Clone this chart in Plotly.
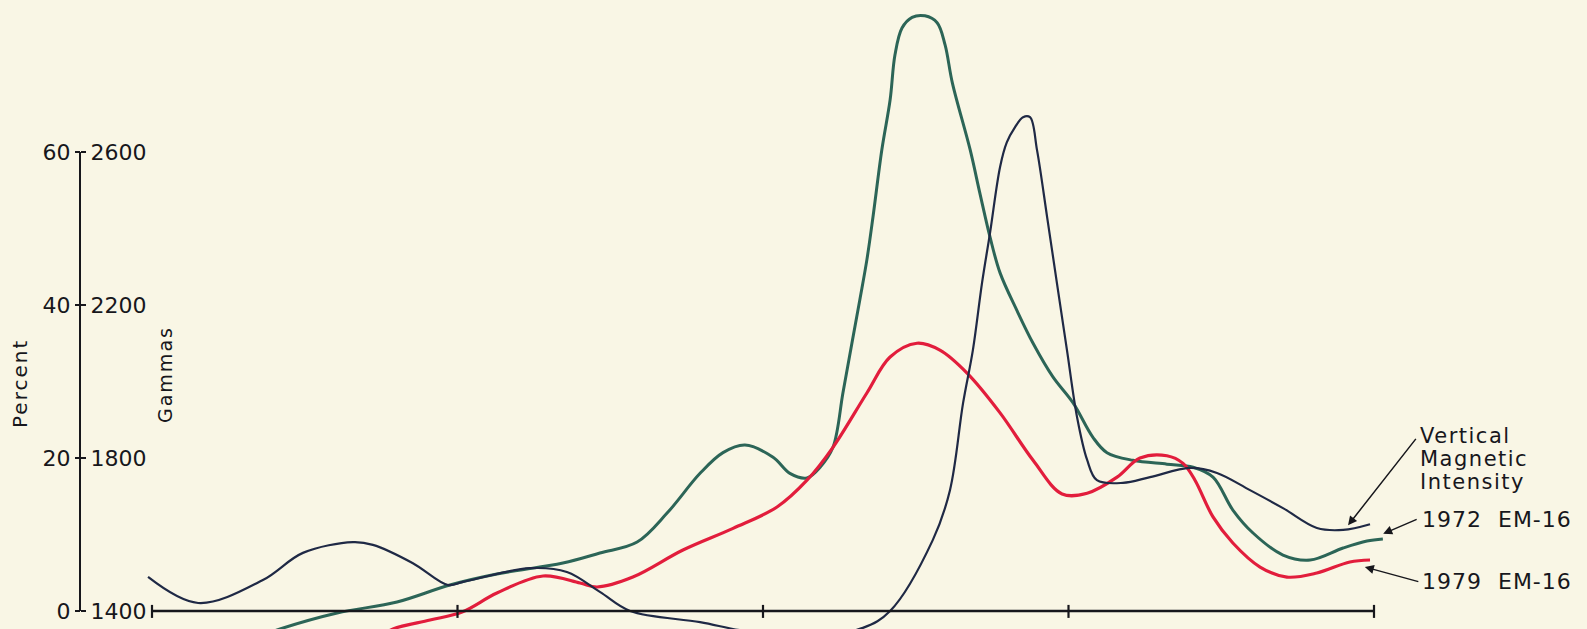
import plotly.graph_objects as go

# ---------------- data ----------------
# horizontal position along the profile (axis ticks every 100 units)
x_ticks = [0, 100, 200, 300, 400]
pct_ticks = [0, 20, 40, 60]
gamma_ticks = [1400, 1800, 2200, 2600]

# Vertical Magnetic Intensity (gammas)
x_vmi = [-1.3, 15.1, 36.3, 49.4, 65.8, 72.3, 85.4, 96.9, 101.8, 123.7, 135.8, 146.6,
         156.5, 179.4, 192.5, 212.0, 232.7, 241.6, 255.6, 261.2, 265.5, 268.7, 271.7,
         274.3, 277.6, 279.8, 282.5, 285.1, 287.4, 289.7, 293.0, 296.2, 299.5,
         302.8, 306.1, 309.3, 317.8, 326.7, 339.8, 348.6, 359.4, 370.2, 381.3, 389.9,
         398.7]
vmi_gammas = [1489, 1421, 1481, 1552, 1580, 1573, 1525, 1468, 1476, 1512, 1502, 1450,
              1400, 1371, 1350, 1330, 1356, 1400, 1586, 1716, 1944, 2082, 2258,
              2388, 2561, 2625, 2665, 2691, 2691, 2605, 2430, 2258, 2082,
              1907, 1795, 1742, 1735, 1750, 1774, 1761, 1716, 1669, 1617, 1612,
              1627]

# 1972 EM-16 (percent)
x_1972 = [32.0, 41.9, 60.6, 80.2, 97.5, 112.9, 134.5, 146.6, 158.8, 168.6, 179.4, 186.9,
          194.1, 203.3, 208.8, 214.4, 218.7, 222.9, 226.2, 229.1, 231.7, 234.0, 236.0,
          238.9, 241.6, 243.2, 245.5, 248.8, 253.0, 257.0, 259.6, 262.0, 267.8, 271.0,
          274.3, 277.6, 283.1, 288.4, 294.9, 301.5, 308.0, 312.6, 321.1, 332.2, 340.8,
          347.3, 353.8, 360.4, 370.2, 379.1, 389.9, 397.7, 402.9]
em1972_pct = [-3.8, -2.35, -0.26, 1.18, 3.40, 4.84, 6.27, 7.58, 9.02, 12.8, 18.0, 20.7,
              21.7, 20.1, 18.0, 17.4, 18.8, 21.4, 28.6, 35.0, 40.7, 45.9, 51.5,
              60.3, 66.8, 72.7, 76.2, 77.6, 77.8, 76.9, 74.0, 69.0, 60.3, 54.6,
              48.9, 44.2, 39.3, 35.0, 30.6, 27.2, 22.7, 20.7, 19.7, 19.2, 18.8,
              17.5, 13.2, 10.2, 7.32, 6.67, 8.24, 9.15, 9.41]

# 1979 EM-16 (percent)
x_1979 = [73.0, 78.9, 91.0, 101.5, 112.9, 128.0, 140.1, 145.7, 157.4, 173.8, 190.2, 204.6,
          214.4, 222.9, 234.0, 241.6, 250.4, 257.9, 266.8, 277.6, 288.4, 297.9, 306.1,
          315.9, 323.4, 332.2, 337.5, 341.4, 347.3, 353.8, 362.7, 371.5, 381.3, 392.1,
          398.7]
em1979_pct = [-3.8, -2.35, -1.18, -0.13, 2.35, 4.58, 3.66, 3.14, 4.44, 7.97, 10.8, 13.6,
              17.1, 21.4, 28.5, 33.2, 35.0, 34.1, 31.1, 25.9, 19.7, 15.3, 15.4,
              17.5, 20.0, 20.3, 19.3, 17.1, 12.3, 8.89, 5.75, 4.44, 4.97, 6.41,
              6.67]

# ---------------- styling ----------------
W, H = 1587, 629
BG = "#f9f6e5"
INK = "#17171c"
NAVY = "#1f2945"
GREEN = "#2c6557"
RED = "#e21d3c"
FONT = "DejaVu Sans"

PCT_RANGE = [-2.35, 79.87]
GAMMA_RANGE = [1400 + 20 * PCT_RANGE[0], 1400 + 20 * PCT_RANGE[1]]
AXIS_POS = 80 / W

fig = go.Figure()
fig.add_trace(go.Scatter(x=x_vmi, y=vmi_gammas, yaxis="y2", mode="lines",
                         line=dict(color=NAVY, width=2.2, shape="spline", smoothing=1.0),
                         name="Vertical Magnetic Intensity", showlegend=False))
fig.add_trace(go.Scatter(x=x_1972, y=em1972_pct, mode="lines",
                         line=dict(color=GREEN, width=3, shape="spline", smoothing=1.0),
                         name="1972 EM-16", showlegend=False))
fig.add_trace(go.Scatter(x=x_1979, y=em1979_pct, mode="lines",
                         line=dict(color=RED, width=3.2, shape="spline", smoothing=1.0),
                         name="1979 EM-16", showlegend=False))

shapes = []
# vertical scale line
shapes.append(dict(type="line", xref="paper", yref="y", x0=AXIS_POS, x1=AXIS_POS,
                   y0=pct_ticks[0], y1=pct_ticks[-1], line=dict(color=INK, width=2)))
# horizontal baseline with ticks
shapes.append(dict(type="line", xref="x", yref="y", x0=x_ticks[0], x1=x_ticks[-1],
                   y0=0, y1=0, line=dict(color=INK, width=2.5)))
for t in x_ticks:
    shapes.append(dict(type="line", xref="x", yref="y", x0=t, x1=t, y0=-0.9, y1=0.8,
                       line=dict(color=INK, width=2.2)))

def sp(txt, ls):
    return f'<span style="letter-spacing:{ls}px">{txt}</span>'

def label(txt, x, y, size, ls, angle=0, xanchor="left"):
    return dict(text=sp(txt, ls), xref="paper", yref="paper", x=x / W, y=1 - y / H,
                xanchor=xanchor, yanchor="middle", textangle=angle, showarrow=False,
                font=dict(family=FONT, size=size, color=INK))

annotations = [
    label("Percent", 20, 384, 20, 2, angle=-90, xanchor="center"),
    label("Gammas", 165, 375, 19, 2, angle=-90, xanchor="center"),
    label("Vertical", 1418, 436, 21, 1.5),
    label("Magnetic", 1418, 459, 21, 1.5),
    label("Intensity", 1418, 482, 21, 1.5),
    label("1972  EM-16", 1420, 519, 22, 1.0),
    label("1979  EM-16", 1420, 581, 22, 1.0),
    # arrows
    dict(text="", x=391.5, y=11.2, xref="x", yref="y", showarrow=True, ax=69, ay=-88,
         arrowhead=2, arrowsize=1.2, arrowwidth=1.5, arrowcolor=INK),
    dict(text="", x=403.0, y=10.1, xref="x", yref="y", showarrow=True, ax=35, ay=-15,
         arrowhead=2, arrowsize=1.2, arrowwidth=1.5, arrowcolor=INK),
    dict(text="", x=397.0, y=5.75, xref="x", yref="y", showarrow=True, ax=55, ay=15,
         arrowhead=2, arrowsize=1.2, arrowwidth=1.5, arrowcolor=INK),
]

fig.update_layout(
    width=W, height=H, autosize=False,
    margin=dict(l=0, r=0, t=0, b=0, pad=0),
    paper_bgcolor=BG, plot_bgcolor=BG,
    showlegend=False,
    xaxis=dict(range=[(0 - 152) / 3.055, (W - 152) / 3.055], visible=False, domain=[0, 1]),
    yaxis=dict(range=PCT_RANGE, anchor="free", position=AXIS_POS, side="left",
               tickvals=pct_ticks, ticktext=[str(v) for v in pct_ticks],
               ticks="outside", ticklen=5, tickwidth=2, tickcolor=INK,
               showline=False, showgrid=False, zeroline=False, automargin=False,
               tickfont=dict(family=FONT, size=22, color=INK)),
    yaxis2=dict(range=GAMMA_RANGE, overlaying="y", anchor="free", position=AXIS_POS,
                side="right", tickvals=gamma_ticks, ticktext=[str(v) for v in gamma_ticks],
                ticks="outside", ticklen=5, tickwidth=2, tickcolor=INK,
                showline=False, showgrid=False, zeroline=False, automargin=False,
                tickfont=dict(family=FONT, size=22, color=INK)),
    shapes=shapes,
    annotations=annotations,
)

fig.write_html(
    "out.html",
    config={"displayModeBar": False},
    post_script=["document.body.style.margin='0';document.body.style.overflow='hidden';"
                 "document.body.style.background='" + BG + "';"],
)
